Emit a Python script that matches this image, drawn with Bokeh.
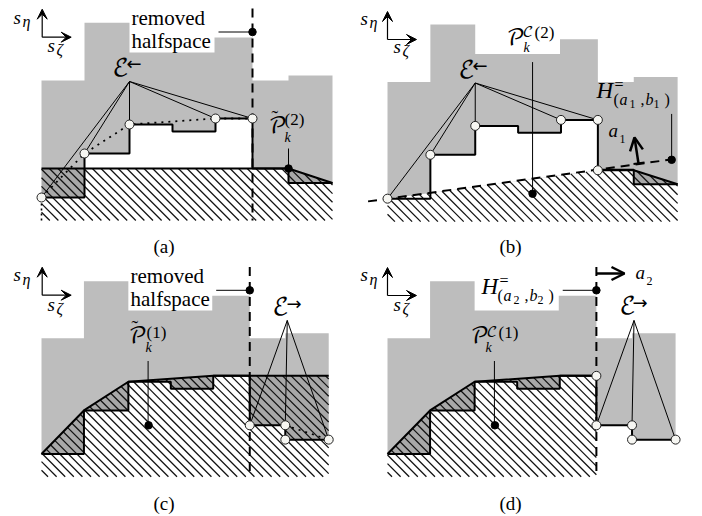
from bokeh.plotting import figure
from bokeh.models import ColumnDataSource, Arrow, VeeHead, OpenHead
from bokeh.embed import file_html
from bokeh.resources import INLINE

GRAY = "#bdbdbd"
DARK = "#a8a8a8"

TOP = [(41,80),(84,80),(84,22.3),(129,22.3),(129,52),(214,52),(214,37),(252,37),(252,80),(288,80),(288,75),(332,75)]
STAIR = [(41,197),(84,197),(84,153),(129,153),(129,124),(172,124),(172,131),(215,131),(215,118),(252,118),(252,168),(288,168),(288,182.5),(332,182.5)]
HULL = [(41,197),(84,153),(129,124),(215,118)]
APEX_L = (129,81)
APEX_R = (290,62)
BOTTOM = 220

PANELS = {"a": (41,22.3,1.0,1.0), "b": (387,24,0.997,0.997), "c": (41,280.7,0.987,0.989), "d": (387,280.7,0.99,0.989)}

def T(name, pts):
    ax, ay, sx, sy = PANELS[name]
    return [(ax+sx*(x-41), ay+sy*(y-22.3)) for x, y in pts]

p = figure(width=702, height=516, x_range=(0,702), y_range=(516,0), toolbar_location=None,
           output_backend="svg", min_border=0, outline_line_color=None, background_fill_color="white")
p.axis.visible = False
p.grid.visible = False

def fill(name, pts, color):
    q = T(name, pts)
    p.patch([a for a,_ in q], [b for _,b in q], fill_color=color, line_color=None)

def line(name, pts, width=1.0, dash="solid", color="black"):
    q = T(name, pts)
    p.line([a for a,_ in q], [b for _,b in q], line_width=width, line_dash=dash, line_color=color)

def hatch(name, pts, step=8.6):
    q = T(name, pts)
    cs = [x-y for x,y in q]
    xs, ys = [], []
    k = int(min(cs)//step)
    while k*step < max(cs):
        c = k*step + 1.3
        hits = []
        for (x0,y0),(x1,y1) in zip(q, q[1:]+q[:1]):
            d0, d1 = x0-y0-c, x1-y1-c
            if (d0 < 0) != (d1 < 0):
                t = d0/(d0-d1)
                hits.append(x0+t*(x1-x0))
        hits.sort()
        for h0, h1 in zip(hits[0::2], hits[1::2]):
            xs.append([h0,h1]); ys.append([h0-c,h1-c])
        k += 1
    p.multi_line(xs, ys, line_color="#111111", line_width=1.25)

def dots(name, pts):
    q = T(name, pts)
    p.scatter([a for a,_ in q], [b for _,b in q], size=7.5, fill_color="black", line_color="black")

def rings(name, pts):
    q = T(name, pts)
    p.scatter([a for a,_ in q], [b for _,b in q], size=9, fill_color="#f6f6f2", line_color="#222222", line_width=1)

def spokes(name, apex, pts):
    for pt in pts:
        line(name, [apex, pt], 1.0)

# panel a
fill("a", TOP+[(332,182.5),(288,168),(41,168)], GRAY)
fill("a", [(84,168)]+STAIR[2:11], "white")
fill("a", [(41,168),(84,168),(84,197),(41,197)], DARK)
fill("a", [(288,168),(332,182.5),(288,182.5)], DARK)
hatch("a", [(41,168),(288,168),(332,182.5),(332,BOTTOM),(41,BOTTOM)])
line("a", [(41,BOTTOM),(41,197)], 1.6, "2 3")
line("a", HULL+[(252,118)], 1.8, "2 5")
line("a", STAIR, 2)
line("a", [(41,168),(288,168),(332,182.5)], 2)
line("a", [(252,8),(252,BOTTOM)], 2, "9 6")
line("a", [(218,31.5),(252,31.5)])
line("a", [(288,148),(288,168)])
spokes("a", APEX_L, [(41,197),(84,153),(129,124),(215,118),(252,118)])
dots("a", [(252,31.5),(288,168)])
rings("a", [(41,197),(84,153),(129,124),(215,118),(252,118)])

# panel b
fill("b", TOP+[(332,182.5),(288,168.5),(252,168.5),(41,197)], GRAY)
fill("b", [(84,191.3)]+STAIR[2:10]+[(252,168.5)], "white")
fill("b", [(288,168.5),(332,182.5),(288,182.5)], DARK)
hatch("b", [(41,197),(252,168.5),(288,168.5),(332,182.5),(332,BOTTOM),(41,BOTTOM)])
line("b", [(21.5,199.7),(325.5,157.7)], 2, "9 6")
line("b", STAIR, 2)
line("b", [(252,168.5),(288,168.5),(332,182.5)], 2)
line("b", [(326,112),(326,158)])
line("b", [(186.5,60),(186.5,191)])
spokes("b", APEX_L, [(41,197),(84,153),(129,124),(215,118),(252,118)])
dots("b", [(326,158),(186.5,192)])
rings("b", [(41,197),(84,153),(129,124),(215,118),(252,118),(252,168.5)])

# panel c
fill("c", TOP+[(332,118)]+HULL[::-1], GRAY)
fill("c", HULL+[(332,118),(332,182.5),(288,182.5),(288,168),(252,168),(252,118)]+STAIR[8:0:-1], DARK)
hatch("c", HULL+[(332,118),(332,BOTTOM),(41,BOTTOM)])
line("c", STAIR, 2)
line("c", HULL+[(332,118)], 2)
line("c", [(288,168),(332,182.5)], 1.6, "2 5")
line("c", [(252,8),(252,BOTTOM)], 2, "9 6")
line("c", [(218,31.5),(252,31.5)])
line("c", [(149,103),(149,168)])
spokes("c", APEX_R, [(252,168),(288,168),(332,182.5)])
dots("c", [(252,31.5),(149.5,168)])
rings("c", [(252,168),(288,168),(288,182.5),(332,182.5)])

# panel d
fill("d", TOP+[(332,182.5),(288,182.5),(288,168),(252,168),(252,118)]+HULL[::-1], GRAY)
fill("d", [(41,197),(84,153),(84,197)], DARK)
fill("d", [(84,153),(129,124),(129,153)], DARK)
fill("d", [(129,124),(215,118),(215,131),(172,131),(172,124)], DARK)
hatch("d", HULL+[(252,118),(252,BOTTOM),(41,BOTTOM)])
line("d", STAIR, 2)
line("d", HULL+[(252,118)], 2)
line("d", [(252,8),(252,BOTTOM)], 2, "9 6")
line("d", [(218,31.5),(252,31.5)])
line("d", [(149,103),(149,168)])
spokes("d", APEX_R, [(252,168),(288,168),(332,182.5)])
dots("d", [(252,31.5),(149.5,168)])
rings("d", [(252,118),(252,168),(288,168),(288,182.5),(332,182.5)])

# axis arrows
AX = [(41.7,36.7),(387,39),(41.7,294.7),(387,295)]
for x0, y0 in AX:
    for x1, y1 in [(x0,y0-28),(x0+29,y0)]:
        p.add_layout(Arrow(end=VeeHead(size=10, fill_color="black", line_color="black"),
                           x_start=x0, y_start=y0, x_end=x1, y_end=y1, line_width=1.2))
p.add_layout(Arrow(end=OpenHead(size=13, line_width=2.5), x_start=638, y_start=163, x_end=634, y_end=137, line_width=2.5))
p.add_layout(Arrow(end=OpenHead(size=13, line_width=2.5), x_start=596, y_start=273, x_end=624, y_end=273, line_width=2.5))
p.line([633,644],[163.5,162],line_width=2,line_color="black")

SERIF = "Liberation Serif"
MATH = "DejaVu Math TeX Gyre"
ARROWFONT = "DejaVu Sans"
LABELS = [
 # panel a
 (13,24,"s",19),(22,27,"η",16),(47,52,"s",19),(56,55,"ζ",16),
 (131,25,"removed",21),(131,48,"halfspace",21),
 (112,78,"ℰ",24),(126,70,"←",18),
 (268,135,"𝒫",22),(271,125,"˜",20),(284,125,"(2)",17),(284,142,"k",14),
 (153,253,"(a)",19),
 # panel b
 (360,25,"s",19),(369,28,"η",16),(393,53,"s",19),(402,56,"ζ",16),
 (506,47,"𝒫",22),(522,38,"𝒞",15),(534,38,"(2)",17),(523,52,"k",14),
 (458,80,"ℰ",24),(472,72,"←",18),
 (596,99,"H",23),(614,90,"=",16),
 (613,105,"(",16),(619,105,"a",16),(629,108,"1",12),(640,105,",",16),(645,105,"b",16),(653,108,"1",12),(664,105,")",16),
 (608,137,"a",19),(619,143,"1",12),
 (499,253,"(b)",19),
 # panel c
 (13,281,"s",19),(22,285,"η",16),(47,311,"s",19),(56,314,"ζ",16),
 (130,283,"removed",21),(130,306,"halfspace",21),
 (128,345,"𝒫",22),(131,335,"˜",20),(146,338,"(1)",17),(145,352,"k",14),
 (272,317,"ℰ",24),(286,310,"→",18),
 (153,510,"(c)",19),
 # panel d
 (360,281,"s",19),(369,285,"η",16),(393,311,"s",19),(402,314,"ζ",16),
 (481,295,"H",23),(499,286,"=",16),
 (497,301,"(",16),(503,301,"a",16),(513,304,"2",12),(524,301,",",16),(529,301,"b",16),(537,304,"2",12),(548,301,")",16),
 (635,279,"a",19),(646,285,"2",12),
 (619,316,"ℰ",24),(632,309,"→",18),
 (470,345,"𝒫",22),(486,338,"𝒞",15),(498,338,"(1)",17),(485,352,"k",14),
 (499,510,"(d)",19),
]
ITAL = {"s","η","ζ","k","H","a","b"}
MATHSET = {"ℰ","𝒫","𝒞"}
ARROWS = {"←","→"}
UP = 0.38
src = ColumnDataSource(dict(
    x=[l[0] for l in LABELS], y=[l[1]-UP*l[3] for l in LABELS], text=[l[2] for l in LABELS],
    size=[f"{l[3]}px" for l in LABELS],
    style=["italic" if l[2] in ITAL else "normal" for l in LABELS],
    font=[MATH if l[2] in MATHSET else ARROWFONT if l[2] in ARROWS else SERIF for l in LABELS]))
p.text("x","y","text",source=src,text_font_size="size",text_font_style="style",text_font="font",
       text_baseline="alphabetic",text_align="left",text_color="black")

open("out.html","w").write(file_html(p, INLINE))
